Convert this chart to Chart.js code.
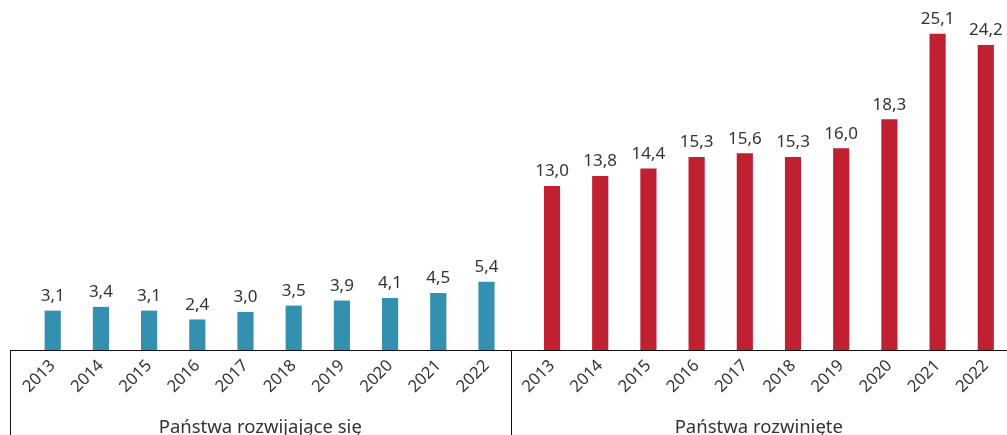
<!DOCTYPE html>
<html><head><meta charset="utf-8">
<script src="https://cdn.jsdelivr.net/npm/chart.js@4/dist/chart.umd.min.js"></script>
<style>html,body{margin:0;padding:0;background:#fff}#wrap{width:1007px;height:435px;position:relative}</style>
</head><body><div id="wrap"><canvas id="c"></canvas></div>
<script>
const years = ['2013','2014','2015','2016','2017','2018','2019','2020','2021','2022'];
const groupNames = ['Państwa rozwijające się', 'Państwa rozwinięte'];
const developing = [3.1, 3.4, 3.1, 2.4, 3.0, 3.5, 3.9, 4.1, 4.5, 5.4];
const developed = [13.0, 13.8, 14.4, 15.3, 15.6, 15.3, 16.0, 18.3, 25.1, 24.2];

const FONT = '"Noto Sans", sans-serif';
const TEXT = '#333333';
const groupGap = 0.36;
const blueX = years.map((y, i) => i);
const redX = years.map((y, i) => years.length + groupGap + i);
const allX = blueX.concat(redX);
const allLabels = years.concat(years);
const fmt = v => v.toFixed(1).replace('.', ',');

const labelPlugin = {
  id: 'labels',
  afterDatasetsDraw(chart) {
    const ctx = chart.ctx;
    ctx.save();
    ctx.font = '17px ' + FONT;
    ctx.fillStyle = TEXT;
    ctx.textAlign = 'center';
    ctx.textBaseline = 'alphabetic';
    chart.data.datasets.forEach((ds, di) => {
      chart.getDatasetMeta(di).data.forEach((bar, i) => {
        ctx.fillText(fmt(ds.data[i].y), bar.x, bar.y - 10);
      });
    });
    ctx.restore();
  },
  afterDraw(chart) {
    const ctx = chart.ctx;
    const xs = chart.scales.x;
    const area = chart.chartArea;
    const sep = xs.getPixelForValue(blueX[blueX.length - 1] + 0.5);
    const left = area.left;
    const right = area.right;
    ctx.save();
    ctx.strokeStyle = '#111';
    ctx.lineWidth = 1;
    [left, sep].forEach(x => {
      const px = Math.round(x) + 0.5;
      ctx.beginPath();
      ctx.moveTo(px, area.bottom);
      ctx.lineTo(px, chart.height);
      ctx.stroke();
    });
    ctx.font = '18.5px ' + FONT;
    ctx.fillStyle = TEXT;
    ctx.textAlign = 'center';
    ctx.textBaseline = 'alphabetic';
    ctx.fillText(groupNames[0], (left + sep) / 2, 433);
    ctx.fillText(groupNames[1], (sep + right) / 2, 433);
    ctx.restore();
  }
};

new Chart(document.getElementById('c'), {
  type: 'bar',
  data: {
    datasets: [
      { label: groupNames[0], data: developing.map((v, i) => ({x: blueX[i], y: v})), backgroundColor: '#3390B0', barThickness: 15.5, grouped: false },
      { label: groupNames[1], data: developed.map((v, i) => ({x: redX[i], y: v})), backgroundColor: '#C02130', barThickness: 15.5, grouped: false }
    ]
  },
  options: {
    responsive: true,
    maintainAspectRatio: false,
    animation: false,
    layout: { padding: { left: 10, right: 0, top: 0, bottom: 0 } },
    plugins: { legend: { display: false }, tooltip: { enabled: false } },
    scales: {
      x: {
        type: 'linear',
        min: -0.886,
        max: 19.8,
        offset: false,
        grid: { display: false, drawTicks: false },
        border: { display: true, color: '#111', width: 1 },
        afterBuildTicks: s => { s.ticks = allX.map(v => ({ value: v })); },
        afterFit: s => { s.height = 85; },
        ticks: {
          autoSkip: false,
          minRotation: 45,
          maxRotation: 45,
          padding: 6,
          color: TEXT,
          font: { family: FONT, size: 16.5 },
          callback: (v, i) => allLabels[i]
        }
      },
      y: {
        display: false,
        min: 0,
        max: 27.8
      }
    }
  },
  plugins: [labelPlugin]
});
</script></body></html>
